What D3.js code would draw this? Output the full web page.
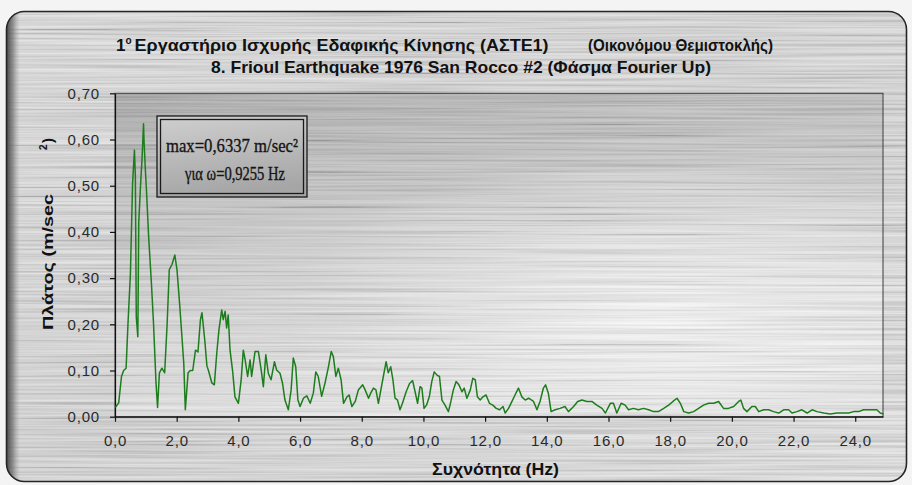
<!DOCTYPE html>
<html>
<head>
<meta charset="utf-8">
<script src="https://cdn.jsdelivr.net/npm/d3@7"></script>
<style>
  body { margin: 0; background: #f4f4f4; }
  svg { display: block; font-family: "Liberation Sans", Arial, sans-serif; }
</style>
</head>
<body>
<svg id="chart" width="912" height="485"></svg>
<script>
// spectrum, band by band (Hz / m/sec²)
const lowFreqs = [0.01,0.12,0.21,0.28,0.36,0.42,0.50,0.57,0.63,0.66,0.69,0.74,0.77,0.82,0.88,0.925,0.94,0.98,1.02,1.09,1.18,1.25,1.33,1.38,1.44,1.52,1.61,1.69,1.76,1.85,1.94,2.01,2.10,2.17,2.23,2.28,2.37,2.44,2.52,2.61,2.69,2.77,2.82,2.91,2.98];
const lowAmps = [0.020,0.030,0.087,0.100,0.105,0.200,0.310,0.505,0.577,0.520,0.216,0.173,0.420,0.490,0.563,0.634,0.600,0.540,0.490,0.390,0.290,0.200,0.073,0.020,0.095,0.105,0.095,0.200,0.318,0.330,0.350,0.318,0.240,0.173,0.115,0.015,0.095,0.100,0.100,0.144,0.140,0.210,0.225,0.166,0.110];

const midFreqs = [3.03,3.14,3.22,3.30,3.37,3.46,3.51,3.57,3.62,3.67,3.73,3.81,3.89,4.00,4.09,4.16,4.22,4.30,4.38,4.43,4.54,4.65,4.74,4.81,4.89,4.97,5.06,5.17,5.24,5.35,5.43,5.51,5.62,5.71,5.78,5.86,5.93,6.00,6.11,6.22,6.33,6.43,6.51,6.59,6.70,6.81,6.92,7.01,7.08,7.16,7.24,7.33,7.41,7.52,7.59,7.68,7.79,7.89];
const midAmps = [0.100,0.073,0.069,0.138,0.188,0.231,0.210,0.228,0.192,0.220,0.144,0.101,0.043,0.029,0.079,0.144,0.123,0.087,0.123,0.087,0.141,0.141,0.101,0.065,0.134,0.094,0.080,0.119,0.101,0.094,0.073,0.036,0.015,0.058,0.127,0.108,0.036,0.022,0.040,0.045,0.029,0.051,0.097,0.087,0.044,0.073,0.108,0.141,0.130,0.087,0.105,0.080,0.029,0.043,0.047,0.022,0.033,0.058];

const upperFreqs = [8.03,8.11,8.22,8.29,8.38,8.46,8.54,8.62,8.70,8.79,8.86,8.94,9.01,9.08,9.16,9.24,9.32,9.44,9.55,9.65,9.73,9.81,9.89,9.95,10.02,10.10,10.19,10.27,10.35,10.44,10.52,10.60,10.70,10.81,10.89,10.97,11.06,11.15,11.25,11.32,11.41,11.52,11.60,11.68,11.75,11.84,11.93,12.03,12.14,12.25,12.36,12.47,12.58,12.65,12.76,12.87,12.97,13.08,13.19,13.30,13.41,13.57,13.68,13.78,13.89,13.96,14.05,14.14];
const upperAmps = [0.069,0.058,0.040,0.051,0.062,0.058,0.029,0.058,0.087,0.119,0.095,0.108,0.080,0.040,0.036,0.015,0.029,0.054,0.072,0.078,0.054,0.029,0.065,0.062,0.018,0.025,0.043,0.076,0.097,0.090,0.087,0.036,0.025,0.011,0.033,0.058,0.076,0.069,0.054,0.062,0.040,0.058,0.083,0.080,0.043,0.036,0.043,0.047,0.029,0.025,0.018,0.015,0.022,0.008,0.018,0.033,0.047,0.062,0.043,0.036,0.040,0.033,0.015,0.033,0.062,0.069,0.051,0.011];

const highFreqs = [14.27,14.43,14.59,14.70,14.87,15.00,15.14,15.30,15.46,15.62,15.79,15.90,16.06,16.16,16.27,16.41,16.54,16.65,16.81,16.97,17.14,17.30,17.46,17.62,17.79,17.95,18.09,18.22,18.33,18.44,18.60,18.76,18.92,19.08,19.25,19.41,19.57,19.73,19.89,20.06,20.22,20.29,20.38,20.49,20.65,20.76,20.87,21.03,21.19,21.35,21.52,21.68,21.84,21.95,22.11,22.27,22.44,22.60,22.76,22.98,23.19,23.41,23.63,23.79,23.95,24.11,24.27,24.43,24.59,24.70,24.81,24.92];
const highAmps = [0.015,0.018,0.022,0.011,0.022,0.033,0.036,0.033,0.033,0.025,0.018,0.008,0.029,0.029,0.008,0.029,0.025,0.015,0.018,0.015,0.018,0.015,0.011,0.011,0.018,0.025,0.033,0.040,0.029,0.011,0.008,0.011,0.018,0.025,0.029,0.029,0.033,0.018,0.018,0.022,0.033,0.036,0.018,0.011,0.022,0.022,0.011,0.015,0.015,0.011,0.008,0.015,0.015,0.008,0.011,0.015,0.008,0.015,0.011,0.008,0.006,0.008,0.008,0.008,0.011,0.011,0.015,0.015,0.015,0.015,0.008,0.006];

const xTicks = [0, 2, 4, 6, 8, 10, 12, 14, 16, 18, 20, 22, 24];
const yTicks = [0, 0.1, 0.2, 0.3, 0.4, 0.5, 0.6, 0.7];

const titleA = "Εργαστήριο Ισχυρής Εδαφικής Κίνησης (ΑΣΤΕ1)";
const titleB = "(Οικονόμου Θεμιστοκλής)";
const title2 = "8. Frioul Earthquake 1976 San Rocco #2 (Φάσμα Fourier Up)";
const xTitle = "Συχνότητα (Hz)";
const yTitle = "Πλάτος (m/sec";
const noteLines = ["max=0,6337 m/sec²", "για ω=0,9255 Hz"];

const points = [];
[[lowFreqs, lowAmps], [midFreqs, midAmps], [upperFreqs, upperAmps], [highFreqs, highAmps]]
  .forEach(([fs, as]) => fs.forEach((f, i) => points.push({ f: f, a: as[i] })));

const svg = d3.select("#chart");
const plot = { left: 115, right: 883, top: 93.3, bottom: 416.7 };

const x = d3.scaleLinear().domain([0, 24.9]).range([plot.left, plot.right]);
const y = d3.scaleLinear().domain([0, 0.7]).range([plot.bottom, plot.top]);

// ---- defs: gradients and brushed texture
const defs = svg.append("defs");

const metal = defs.append("linearGradient").attr("id", "metal")
  .attr("x1", 0).attr("y1", 0).attr("x2", 1).attr("y2", 1);
metal.append("stop").attr("offset", 0).attr("stop-color", "#e0e0e0");
metal.append("stop").attr("offset", 0.5).attr("stop-color", "#d8d8d8");
metal.append("stop").attr("offset", 1).attr("stop-color", "#e4e4e4");

const bevel = defs.append("linearGradient").attr("id", "bevel")
  .attr("x1", 0).attr("y1", 0).attr("x2", 1).attr("y2", 0);
bevel.append("stop").attr("offset", 0).attr("stop-color", "#3a3a3a").attr("stop-opacity", 0.95);
bevel.append("stop").attr("offset", 0.5).attr("stop-color", "#707070").attr("stop-opacity", 0.7);
bevel.append("stop").attr("offset", 1).attr("stop-color", "#a0a0a0").attr("stop-opacity", 0);

const plotGrad = defs.append("linearGradient").attr("id", "plotGrad")
  .attr("x1", 0).attr("y1", 0).attr("x2", 0.3).attr("y2", 1);
plotGrad.append("stop").attr("offset", 0).attr("stop-color", "#acacac");
plotGrad.append("stop").attr("offset", 0.55).attr("stop-color", "#d4d4d4");
plotGrad.append("stop").attr("offset", 1).attr("stop-color", "#e8e8e8");

const glow = defs.append("radialGradient").attr("id", "glow")
  .attr("cx", 0.72).attr("cy", 0.68).attr("r", 0.5);
glow.append("stop").attr("offset", 0).attr("stop-color", "#ffffff").attr("stop-opacity", 0.75);
glow.append("stop").attr("offset", 1).attr("stop-color", "#ffffff").attr("stop-opacity", 0);

const boxGrad = defs.append("linearGradient").attr("id", "boxGrad")
  .attr("x1", 0).attr("y1", 0).attr("x2", 0.2).attr("y2", 1);
boxGrad.append("stop").attr("offset", 0).attr("stop-color", "#cfcfcf");
boxGrad.append("stop").attr("offset", 1).attr("stop-color", "#a6a6a6");

const brush = defs.append("filter").attr("id", "brush")
  .attr("x", 0).attr("y", 0).attr("width", 1).attr("height", 1);
brush.append("feTurbulence").attr("type", "fractalNoise")
  .attr("baseFrequency", "0.004 0.45").attr("numOctaves", 2).attr("seed", 7);
brush.append("feColorMatrix").attr("type", "matrix")
  .attr("values", "1.6 0 0 0 -0.3  1.6 0 0 0 -0.3  1.6 0 0 0 -0.3  0 0 0 0 0.24");

defs.append("clipPath").attr("id", "frameClip")
  .append("rect").attr("x", 6.5).attr("y", 11.5).attr("width", 900).attr("height", 470).attr("rx", 18);

// ---- frame
svg.append("rect").attr("x", 6.5).attr("y", 11.5).attr("width", 900).attr("height", 470)
  .attr("rx", 18).attr("fill", "url(#metal)");

const framed = svg.append("g").attr("clip-path", "url(#frameClip)");
framed.append("rect").attr("x", 6).attr("y", 11).attr("width", 901).attr("height", 471)
  .attr("fill", "#fff").attr("filter", "url(#brush)");
framed.append("rect").attr("x", 6).attr("y", 11).attr("width", 14).attr("height", 471)
  .attr("fill", "url(#bevel)");

svg.append("rect").attr("x", 6.5).attr("y", 11.5).attr("width", 900).attr("height", 470)
  .attr("rx", 18).attr("fill", "none").attr("stroke", "#262626").attr("stroke-width", 1.6);

// ---- titles
const t1 = svg.append("text").attr("x", 116).attr("y", 51)
  .attr("font-size", 17).attr("font-weight", "bold").attr("fill", "#111");
t1.append("tspan").text("1");
t1.append("tspan").attr("dy", -7).attr("font-size", 10).text("ο");
t1.append("tspan").attr("dy", 7).attr("dx", 3)
  .attr("textLength", 414).attr("lengthAdjust", "spacingAndGlyphs").text(titleA);

svg.append("text").attr("x", 588).attr("y", 51)
  .attr("font-size", 17).attr("font-weight", "bold").attr("fill", "#111")
  .attr("textLength", 185).attr("lengthAdjust", "spacingAndGlyphs").text(titleB);

svg.append("text").attr("x", 211).attr("y", 73)
  .attr("font-size", 17).attr("font-weight", "bold").attr("fill", "#111")
  .attr("textLength", 500).attr("lengthAdjust", "spacingAndGlyphs").text(title2);

// ---- plot area
const area = () => svg.append("rect").attr("x", plot.left).attr("y", plot.top)
  .attr("width", plot.right - plot.left).attr("height", plot.bottom - plot.top);
area().attr("fill", "url(#plotGrad)");
area().attr("fill", "url(#glow)");
area().attr("fill", "#fff").attr("filter", "url(#brush)").attr("opacity", 0.8);
area().attr("fill", "none").attr("stroke", "#3c3c3c").attr("stroke-width", 1);

// axes
const fmt = (d, n) => d.toFixed(n).replace(".", ",");

const yAxis = svg.append("g").attr("transform", `translate(${plot.left},0)`)
  .call(d3.axisLeft(y).tickValues(yTicks).tickSize(5).tickSizeOuter(0).tickPadding(10)
    .tickFormat(d => fmt(d, 2)));
const xAxis = svg.append("g").attr("transform", `translate(0,${plot.bottom})`)
  .call(d3.axisBottom(x).tickValues(xTicks).tickSize(5).tickSizeOuter(0).tickPadding(14)
    .tickFormat(d => fmt(d, 1)));

[yAxis, xAxis].forEach(g => {
  g.select(".domain").attr("stroke", "#111").attr("stroke-width", 1.2);
  g.selectAll(".tick line").attr("stroke", "#111").attr("stroke-width", 1.2);
  g.selectAll(".tick text").attr("font-family", "Liberation Sans, Arial, sans-serif")
    .attr("font-size", 15).attr("fill", "#2a2a2a").attr("letter-spacing", 0.8);
});

// spectrum line
const line = d3.line().x(d => x(d.f)).y(d => y(d.a));
svg.append("path").datum(points)
  .attr("d", line)
  .attr("fill", "none")
  .attr("stroke", "#1d7d1d")
  .attr("stroke-width", 1.5)
  .attr("stroke-linejoin", "round");

// axis titles
svg.append("text").attr("x", 432).attr("y", 475)
  .attr("font-size", 16).attr("font-weight", "bold")
  .attr("textLength", 127).attr("lengthAdjust", "spacingAndGlyphs")
  .attr("fill", "#111").text(xTitle);

svg.append("text").attr("transform", "translate(53,330) rotate(-90)")
  .attr("font-size", 15).attr("font-weight", "bold").attr("fill", "#111")
  .attr("textLength", 136).attr("lengthAdjust", "spacingAndGlyphs").text(yTitle);
svg.append("text").attr("transform", "translate(47,150) rotate(-90)")
  .attr("font-size", 10).attr("font-weight", "bold").attr("fill", "#111").text("2");
svg.append("text").attr("transform", "translate(53,143) rotate(-90)")
  .attr("font-size", 15).attr("font-weight", "bold").attr("fill", "#111").text(")");

// annotation box
const box = { x: 157, y: 116, w: 150, h: 81 };
svg.append("rect").attr("x", box.x).attr("y", box.y).attr("width", box.w).attr("height", box.h)
  .attr("fill", "url(#boxGrad)").attr("stroke", "#1a1a1a").attr("stroke-width", 1.3);
svg.append("rect").attr("x", box.x + 3.5).attr("y", box.y + 3.5)
  .attr("width", box.w - 7).attr("height", box.h - 7)
  .attr("fill", "none").attr("stroke", "#1a1a1a").attr("stroke-width", 1.3);

svg.selectAll(".note").data(noteLines).join("text")
  .attr("class", "note")
  .attr("x", (d, i) => i === 0 ? 166 : 185)
  .attr("y", (d, i) => 152 + i * 28)
  .attr("font-family", "'Liberation Serif', 'DejaVu Serif', serif")
  .attr("font-size", 19)
  .attr("textLength", (d, i) => i === 0 ? 132 : 100)
  .attr("lengthAdjust", "spacingAndGlyphs")
  .attr("fill", "#151515")
  .attr("stroke", "#151515")
  .attr("stroke-width", 0.35)
  .text(d => d);
</script>
</body>
</html>
